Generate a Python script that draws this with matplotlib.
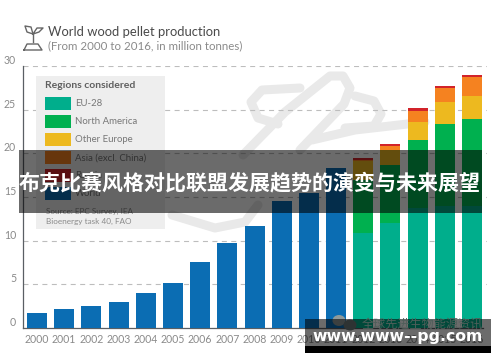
import matplotlib
matplotlib.use('Agg')
import matplotlib.pyplot as plt
from matplotlib.patches import Rectangle, Ellipse

years = list(range(2000, 2017))

# world total only, up to 2011
world_years = years[:12]
world = [1.7, 2.2, 2.55, 3.0, 4.0, 5.2, 7.6, 9.7, 11.7, 14.5, 15.5, 18.3]

# stacked regions, 2012-2016
stack_years = years[12:]
eu28 = [10.9, 12.0, 13.7, 14.0, 14.0]
north_america = [6.1, 6.7, 7.8, 9.4, 9.9]
other_europe = [2.1, 1.7, 2.1, 2.5, 2.7]
asia = [0.15, 0.4, 1.2, 1.55, 2.15]
russia = [0.25, 0.3, 0.35, 0.25, 0.25]

regions = ['EU-28', 'North America', 'Other Europe', 'Asia (excl. China)', 'Russia', 'World']
region_colors = ['#00AE8C', '#00B04F', '#EDB91F', '#F58220', '#D2232A', '#0B6DB3']

y_ticks = [0, 5, 10, 15, 20, 25, 30]

title = 'World wood pellet production'
subtitle = '(From 2000 to 2016, in million tonnes)'
source = ['Source: EPC Survey, IEA', 'Bioenergy task 40, FAO']
banner = '布克比赛风格对比联盟发展趋势的演变与未来展望'
site = 'www.www--pg.com'
wechat = '全球先进生物能源资讯'

# faint logo behind the chart, in pixels
logo_strokes = [
    [(243, 155), (285, 112), (330, 76), (343, 76), (350, 88), (344, 104), (300, 150)],
    [(300, 88), (262, 90), (251, 102), (258, 118), (278, 124)],
    [(355, 96), (374, 101), (381, 114), (374, 126), (345, 128)],
    [(312, 140), (355, 130), (425, 122)],
    [(172, 215), (215, 228), (245, 222), (258, 205)],
]

PX = 72 / 100

fig = plt.figure(figsize=(5.0, 3.62), dpi=100, facecolor='white')


def px_axes(zorder):
    a = fig.add_axes([0, 0, 1, 1], zorder=zorder)
    a.set_xlim(0, 500)
    a.set_ylim(362, 0)
    a.axis('off')
    return a


back = px_axes(0)
for stroke in logo_strokes:
    back.plot(*zip(*stroke), color='#E9E9E9', lw=9 * PX, solid_capstyle='round', solid_joinstyle='round')

# main chart
ax = fig.add_axes([23 / 500, 1 - 328 / 362, 464 / 500, 262 / 362], zorder=1)
ax.patch.set_alpha(0)
ax.set_xlim(-0.515, 16.55)
ax.set_ylim(0, 30)

ax.bar([y - 2000 for y in world_years], world, width=0.735, color=region_colors[5], zorder=3)

bottom = [0] * len(stack_years)
for values, color in zip([eu28, north_america, other_europe, asia, russia], region_colors):
    ax.bar([y - 2000 for y in stack_years], values, width=0.735, bottom=bottom, color=color, zorder=3)
    bottom = [b + v for b, v in zip(bottom, values)]

ax.set_yticks(y_ticks)
ax.set_xticks([y - 2000 for y in years])
ax.set_xticklabels(years)
ax.tick_params(length=0, labelcolor='#8A8A8A', labelsize=7.6, labelfontfamily='Lato')
ax.tick_params(axis='x', pad=4.5)
ax.tick_params(axis='y', pad=5)
for lbl in ax.get_yticklabels():
    lbl.set_va('bottom')
ax.grid(axis='y', color='#BDBDBD', lw=0.8, linestyle=(0, (4.5, 4)), zorder=1)
ax.set_axisbelow(True)
for side in ['top', 'right']:
    ax.spines[side].set_visible(False)
for side in ['left', 'bottom']:
    ax.spines[side].set_color('#5A5F64')
    ax.spines[side].set_linewidth(0.9)
ax.spines['bottom'].set_bounds(-0.515, 16.4)

over = px_axes(2)

# pot icon next to the title
icon = [
    [(33, 42), (33, 34)],
    [(33, 34), (27, 32), (25, 26), (31, 27), (33, 34)],
    [(33, 34), (39, 32), (43, 28), (37, 28), (33, 34)],
    [(24, 50), (27, 44), (38, 44), (42, 50), (24, 50)],
]
for part in icon:
    over.plot(*zip(*part), color='#666666', lw=1.0, solid_joinstyle='round')

over.text(48, 32.5, title, family='Lato', fontsize=9.4, color='#4A4A4A', va='center')
over.text(48, 46, subtitle, family='Lato', fontsize=8.3, color='#8A8A8A', va='center')

# legend panel
over.add_patch(Rectangle((36, 76), 129, 153, color='#EEEEEE', lw=0, zorder=1))
over.text(45, 85, 'Regions considered', family='Lato', fontsize=7.5, fontweight='bold', color='#606060', va='center', zorder=2)
for i, (name, color) in enumerate(zip(regions, region_colors)):
    top = 97 + i * 17.9
    over.add_patch(Rectangle((45, top), 25.5, 13.2, color=color, lw=0, zorder=2))
    over.text(75, top + 7, name, family='Lato', fontsize=6.9, color='#777777', va='center', zorder=2)
for i, line in enumerate(source):
    over.text(46, 211.5 + i * 9.5, line, family='Lato', fontsize=5.9, color='#8A8A8A', va='center', zorder=2)

# wechat mark
over.add_patch(Ellipse((339, 320.5), 13, 11, color='#8F9A9A', lw=0, zorder=3))
over.add_patch(Ellipse((350, 325), 13, 11, color='#6F7A7A', lw=0, zorder=3))

# dark banner and text
over.add_patch(Rectangle((19, 150), 463, 63, color='black', alpha=0.58, lw=0, zorder=4))
over.text(250, 184, banner, family='Noto Sans CJK SC', fontsize=15.1, fontweight='bold', color='white',
          ha='center', va='center', zorder=5)

# site stamp
over.add_patch(Rectangle((305, 319), 186, 27, color='black', alpha=0.58, lw=0, zorder=4))
over.add_patch(Rectangle((305, 346), 186, 7, color='black', lw=0, zorder=4))
over.text(362, 324, wechat, family='Noto Sans CJK SC', fontsize=8.7, color='#4F5F5A', va='center', zorder=5)
over.text(397.5, 336.5, site, family='DejaVu Sans', fontsize=11.3, fontweight='bold', color='white',
          ha='center', va='center', zorder=5)

fig.savefig('out.png', dpi=100)
